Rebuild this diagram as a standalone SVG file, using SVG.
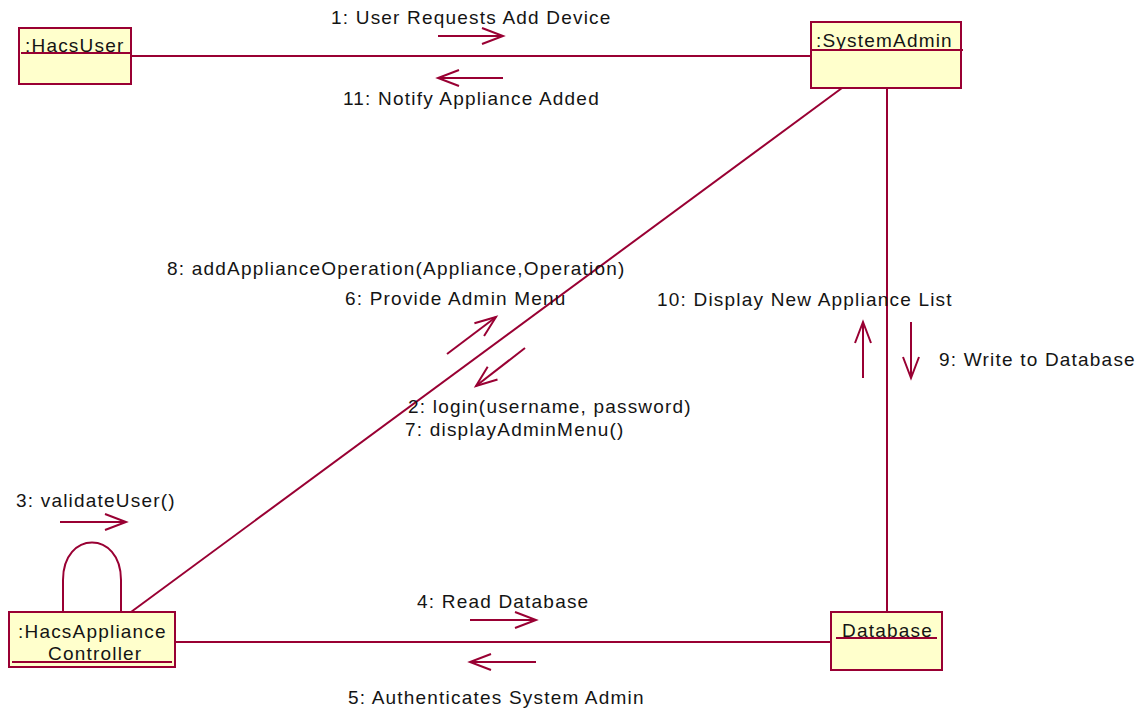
<svg xmlns="http://www.w3.org/2000/svg" width="1143" height="708" viewBox="0 0 1143 708">
<style>
.box{fill:#ffffcc;stroke:#990033;stroke-width:2}
.ln{fill:none;stroke:#990033;stroke-width:2}
.ul{stroke:#990033;stroke-width:2}
.msg{fill:none;stroke:#990033;stroke-width:2;marker-end:url(#open)}
text{font-family:"Liberation Sans",Arial,sans-serif;font-size:19px;letter-spacing:1.2px;fill:#141414}
</style>
<defs>
<marker id="open" markerUnits="userSpaceOnUse" viewBox="-24 -10 26 20" markerWidth="26" markerHeight="20" refX="0" refY="0" orient="auto" overflow="visible">
<path d="M-21,-8 L0,0 L-21,8" fill="none" stroke="#990033" stroke-width="2"/>
</marker>
</defs>
<rect width="1143" height="708" fill="#ffffff"/>
<g id="connectors">
<line class="ln" x1="131" y1="56" x2="811" y2="56"/>
<line class="ln" x1="842" y1="88" x2="131" y2="612"/>
<line class="ln" x1="887" y1="88" x2="887" y2="612"/>
<line class="ln" x1="175" y1="642" x2="831" y2="642"/>
<path class="ln" d="M63,612 V580 C63,530 121,530 121,580 V612"/>
</g>
<g id="messages">
<line class="msg" x1="438" y1="36" x2="503" y2="36"/>
<text x="331" y="24">1: User Requests Add Device</text>
<line class="msg" x1="503" y1="78" x2="438" y2="78"/>
<text x="343" y="105">11: Notify Appliance Added</text>
<text x="167" y="275">8: addApplianceOperation(Appliance,Operation)</text>
<text x="345" y="305">6: Provide Admin Menu</text>
<line class="msg" x1="447" y1="354" x2="496" y2="317"/>
<line class="msg" x1="525" y1="348" x2="476" y2="386"/>
<text x="408" y="413">2: login(username, password)</text>
<text x="405" y="436">7: displayAdminMenu()</text>
<text x="657" y="306">10: Display New Appliance List</text>
<line class="msg" x1="863" y1="378" x2="863" y2="322"/>
<line class="msg" x1="911" y1="322" x2="911" y2="378"/>
<text x="939" y="366">9: Write to Database</text>
<text x="16" y="507">3: validateUser()</text>
<line class="msg" x1="60" y1="522" x2="126" y2="522"/>
<text x="417" y="608">4: Read Database</text>
<line class="msg" x1="470" y1="620" x2="536" y2="620"/>
<line class="msg" x1="536" y1="662" x2="470" y2="662"/>
<text x="348" y="704">5: Authenticates System Admin</text>
</g>
<g id="HacsUser">
<rect class="box" x="19" y="28" width="112" height="56"/>
<text x="25" y="52">:HacsUser</text>
<line class="ul" x1="21" y1="53" x2="130" y2="53"/>
</g>
<g id="SystemAdmin">
<rect class="box" x="811" y="22" width="150" height="66"/>
<text x="816" y="47">:SystemAdmin</text>
<line class="ul" x1="811" y1="50" x2="963" y2="50"/>
</g>
<g id="HacsApplianceController">
<rect class="box" x="9" y="612" width="166" height="55"/>
<text x="18" y="638">:HacsAppliance</text>
<text x="48" y="660">Controller</text>
<line class="ul" x1="12" y1="662" x2="172" y2="662"/>
</g>
<g id="Database">
<rect class="box" x="831" y="612" width="111" height="58"/>
<text x="842" y="637">Database</text>
<line class="ul" x1="836" y1="638" x2="937" y2="638"/>
</g>
</svg>
